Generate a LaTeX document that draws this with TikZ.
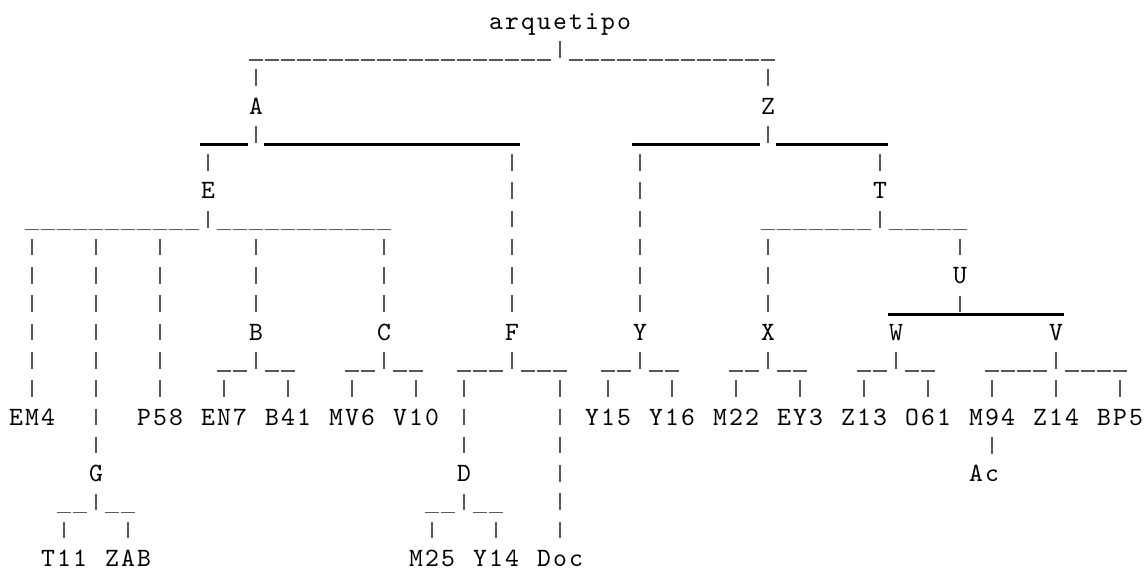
\documentclass[tikz,border=0pt]{standalone}
\usepackage{fontspec}
\usepackage{tikz}
\newfontfamily\siglafont{lmmono10-regular}[Extension=.otf, LetterSpace=8.1]

\begin{document}
\begin{tikzpicture}[x=8pt, y=-14.14pt,
		sigla/.style = {font={\siglafont\fontsize{13.2pt}{14pt}\selectfont}, text=black, inner sep=0pt, text height=10.82pt, text depth=3.32pt},
		haste/.style = {draw=black!65, line width=0.6pt, dash pattern=on 0pt off 2.57pt on 8.25pt off 3.32pt},
		traco/.style = {draw=black!65, line width=0.6pt, dash pattern=on 0pt off 0.5pt on 7pt off 0.5pt},
		grosso/.style = {draw=black, line width=1.4pt},
		paraesq/.style = {shorten <=-4pt, shorten >=4pt},
		paradir/.style = {shorten <=4pt, shorten >=-4pt}]
		\useasboundingbox (0,-0.767) rectangle (71.69,19.317);

		\node[sigla] (arq) at (35,0) {arquetipo};
		\node[sigla] (A) at (16,3) {A};
		\node[sigla] (Z) at (48,3) {Z};
		\node[sigla] (E) at (13,6) {E};
		\node[sigla] (T) at (55,6) {T};
		\node[sigla] (U) at (60,9) {U};
		\node[sigla] (B) at (16,11) {B};
		\node[sigla] (C) at (24,11) {C};
		\node[sigla] (F) at (32,11) {F};
		\node[sigla] (Y) at (40,11) {Y};
		\node[sigla] (X) at (48,11) {X};
		\node[sigla] (W) at (56,11) {W};
		\node[sigla] (V) at (66,11) {V};
		\node[sigla] (EM4) at (2,14) {EM4};
		\node[sigla] (P58) at (10,14) {P58};
		\node[sigla] (EN7) at (14,14) {EN7};
		\node[sigla] (B41) at (18,14) {B41};
		\node[sigla] (MV6) at (22,14) {MV6};
		\node[sigla] (V10) at (26,14) {V10};
		\node[sigla] (Y15) at (38,14) {Y15};
		\node[sigla] (Y16) at (42,14) {Y16};
		\node[sigla] (M22) at (46,14) {M22};
		\node[sigla] (EY3) at (50,14) {EY3};
		\node[sigla] (Z13) at (54,14) {Z13};
		\node[sigla] (O61) at (58,14) {O61};
		\node[sigla] (M94) at (62,14) {M94};
		\node[sigla] (Z14) at (66,14) {Z14};
		\node[sigla] (BP5) at (70,14) {BP5};
		\node[sigla] (G) at (6,16) {G};
		\node[sigla] (D) at (29,16) {D};
		\node[sigla] (Ac) at (61.5,16) {Ac};
		\node[sigla] (T11) at (4,19) {T11};
		\node[sigla] (ZAB) at (8,19) {ZAB};
		\node[sigla] (M25) at (27,19) {M25};
		\node[sigla] (Y14) at (31,19) {Y14};
		\node[sigla] (Doc) at (35,19) {Doc};

		\draw[haste] (arq) -- ++(0,1.5) coordinate (arqb) ++(0,-0.1464) coordinate (arqr);
		\draw[traco, paraesq] (A |- arqr) -- (arq |- arqr);
		\draw[traco, paradir] (arq |- arqr) -- (Z |- arqr);
		\draw[haste] (A |- arqb) -- (A) (Z |- arqb) -- (Z);

		\draw[haste] (A) -- ++(0,1.5) coordinate (Ab) ++(0,-0.1464) coordinate (Ar);
		\draw[grosso, paraesq] (E |- Ar) -- (A |- Ar);
		\draw[grosso, paradir] (A |- Ar) -- (F |- Ar);
		\draw[haste] (E |- Ab) -- (E) (F |- Ab) -- (F);

		\draw[haste] (Z) -- ++(0,1.5) coordinate (Zb) ++(0,-0.1464) coordinate (Zr);
		\draw[grosso, paraesq] (Y |- Zr) -- (Z |- Zr);
		\draw[grosso, paradir] (Z |- Zr) -- (T |- Zr);
		\draw[haste] (Y |- Zb) -- (Y) (T |- Zb) -- (T);

		\draw[haste] (E) -- ++(0,1.5) coordinate (Eb) ++(0,-0.1464) coordinate (Er);
		\draw[traco, paraesq] (EM4 |- Er) -- (E |- Er);
		\draw[traco, paradir] (E |- Er) -- (C |- Er);
		\draw[haste] (EM4 |- Eb) -- (EM4) (G |- Eb) -- (G) (P58 |- Eb) -- (P58) (B |- Eb) -- (B) (C |- Eb) -- (C);

		\draw[haste] (T) -- ++(0,1.5) coordinate (Tb) ++(0,-0.1464) coordinate (Tr);
		\draw[traco, paraesq] (X |- Tr) -- (T |- Tr);
		\draw[traco, paradir] (T |- Tr) -- (U |- Tr);
		\draw[haste] (X |- Tb) -- (X) (U |- Tb) -- (U);

		\draw[haste] (U) -- ++(0,1.5) coordinate (Ub) ++(0,-0.1464) coordinate (Ur);
		\draw[grosso, shorten <=-4pt, shorten >=-4pt] (W |- Ur) -- (V |- Ur);

		\draw[haste] (B) -- ++(0,1.5) coordinate (Bb) ++(0,-0.1464) coordinate (Br);
		\draw[traco, paraesq] (EN7 |- Br) -- (B |- Br);
		\draw[traco, paradir] (B |- Br) -- (B41 |- Br);
		\draw[haste] (EN7 |- Bb) -- (EN7) (B41 |- Bb) -- (B41);

		\draw[haste] (C) -- ++(0,1.5) coordinate (Cb) ++(0,-0.1464) coordinate (Cr);
		\draw[traco, paraesq] (MV6 |- Cr) -- (C |- Cr);
		\draw[traco, paradir] (C |- Cr) -- (V10 |- Cr);
		\draw[haste] (MV6 |- Cb) -- (MV6) (V10 |- Cb) -- (V10);

		\draw[haste] (F) -- ++(0,1.5) coordinate (Fb) ++(0,-0.1464) coordinate (Fr);
		\draw[traco, paraesq] (D |- Fr) -- (F |- Fr);
		\draw[traco, paradir] (F |- Fr) -- (Doc |- Fr);
		\draw[haste] (D |- Fb) -- (D) (Doc |- Fb) -- (Doc);

		\draw[haste] (Y) -- ++(0,1.5) coordinate (Yb) ++(0,-0.1464) coordinate (Yr);
		\draw[traco, paraesq] (Y15 |- Yr) -- (Y |- Yr);
		\draw[traco, paradir] (Y |- Yr) -- (Y16 |- Yr);
		\draw[haste] (Y15 |- Yb) -- (Y15) (Y16 |- Yb) -- (Y16);

		\draw[haste] (X) -- ++(0,1.5) coordinate (Xb) ++(0,-0.1464) coordinate (Xr);
		\draw[traco, paraesq] (M22 |- Xr) -- (X |- Xr);
		\draw[traco, paradir] (X |- Xr) -- (EY3 |- Xr);
		\draw[haste] (M22 |- Xb) -- (M22) (EY3 |- Xb) -- (EY3);

		\draw[haste] (W) -- ++(0,1.5) coordinate (Wb) ++(0,-0.1464) coordinate (Wr);
		\draw[traco, paraesq] (Z13 |- Wr) -- (W |- Wr);
		\draw[traco, paradir] (W |- Wr) -- (O61 |- Wr);
		\draw[haste] (Z13 |- Wb) -- (Z13) (O61 |- Wb) -- (O61);

		\draw[haste] (V) -- ++(0,1.5) coordinate (Vb) ++(0,-0.1464) coordinate (Vr);
		\draw[traco, paraesq] (M94 |- Vr) -- (V |- Vr);
		\draw[traco, paradir] (V |- Vr) -- (BP5 |- Vr);
		\draw[haste] (M94 |- Vb) -- (M94) (Z14 |- Vb) -- (Z14) (BP5 |- Vb) -- (BP5);

		\draw[haste] (G) -- ++(0,1.5) coordinate (Gb) ++(0,-0.1464) coordinate (Gr);
		\draw[traco, paraesq] (T11 |- Gr) -- (G |- Gr);
		\draw[traco, paradir] (G |- Gr) -- (ZAB |- Gr);
		\draw[haste] (T11 |- Gb) -- (T11) (ZAB |- Gb) -- (ZAB);

		\draw[haste] (D) -- ++(0,1.5) coordinate (Db) ++(0,-0.1464) coordinate (Dr);
		\draw[traco, paraesq] (M25 |- Dr) -- (D |- Dr);
		\draw[traco, paradir] (D |- Dr) -- (Y14 |- Dr);
		\draw[haste] (M25 |- Db) -- (M25) (Y14 |- Db) -- (Y14);

		\draw[haste] (M94) -- (M94 |- Ac.north);
	\end{tikzpicture}
\end{document}
